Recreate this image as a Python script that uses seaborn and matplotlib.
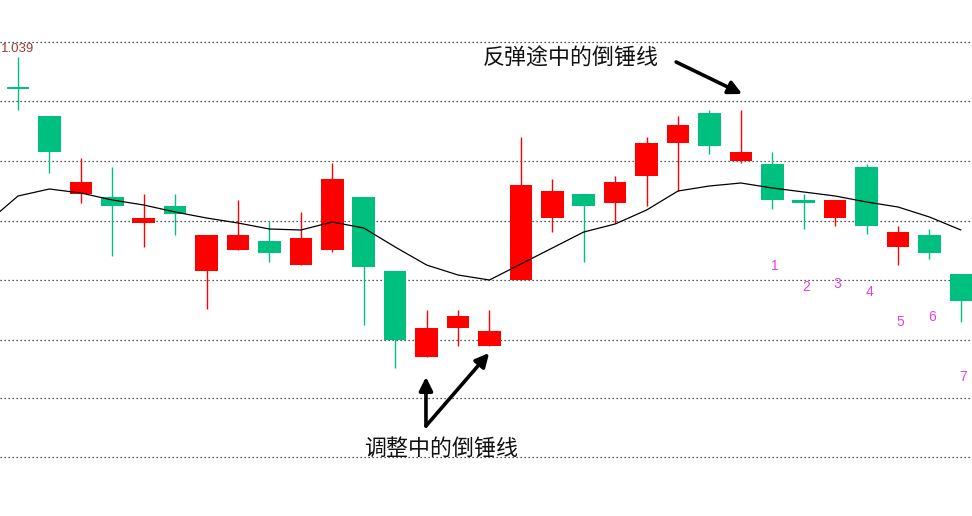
import numpy as np
import pandas as pd
import matplotlib
matplotlib.use("Agg")
import matplotlib.pyplot as plt
import seaborn as sns

# ---------------- data ----------------
opens  = [1.0360, 1.0331, 1.0253, 1.0250, 1.0224, 1.0241, 1.0176, 1.0197, 1.0206, 1.0182,
          1.0197, 1.0250, 1.0176, 1.0090, 1.0119, 1.0101, 1.0167, 1.0229, 1.0253, 1.0244,
          1.0271, 1.0304, 1.0334, 1.0286, 1.0283, 1.0247, 1.0229, 1.0280, 1.0200, 1.0212,
          1.0173]
highs  = [1.0390, 1.0331, 1.0289, 1.0280, 1.0253, 1.0253, 1.0212, 1.0247, 1.0226, 1.0235,
          1.0284, 1.0250, 1.0176, 1.0137, 1.0137, 1.0137, 1.0310, 1.0268, 1.0253, 1.0271,
          1.0310, 1.0331, 1.0337, 1.0337, 1.0295, 1.0253, 1.0247, 1.0283, 1.0221, 1.0218,
          1.0173]
lows   = [1.0337, 1.0274, 1.0244, 1.0191, 1.0200, 1.0212, 1.0138, 1.0197, 1.0185, 1.0182,
          1.0195, 1.0122, 1.0079, 1.0090, 1.0101, 1.0101, 1.0167, 1.0215, 1.0185, 1.0224,
          1.0241, 1.0256, 1.0293, 1.0284, 1.0238, 1.0218, 1.0221, 1.0213, 1.0182, 1.0188,
          1.0125]
closes = [1.0358, 1.0295, 1.0265, 1.0241, 1.0229, 1.0233, 1.0212, 1.0212, 1.0194, 1.0209,
          1.0268, 1.0180, 1.0107, 1.0119, 1.0131, 1.0116, 1.0262, 1.0256, 1.0241, 1.0265,
          1.0304, 1.0322, 1.0301, 1.0295, 1.0247, 1.0244, 1.0247, 1.0221, 1.0215, 1.0194,
          1.0146]
# moving average (first value belongs to the bar just before the visible window)
ma_index = list(range(-1, 31))
ma_values = [1.0224, 1.0251, 1.0258, 1.0254, 1.0247, 1.0242, 1.0235, 1.0229, 1.0224, 1.0218,
             1.0217, 1.0225, 1.0219, 1.0200, 1.0182, 1.0172, 1.0167, 1.0183, 1.0199, 1.0215,
             1.0223, 1.0237, 1.0256, 1.0261, 1.0264, 1.0259, 1.0255, 1.0251, 1.0245, 1.0240,
             1.0230, 1.0217]
grid_levels = [1.0405, 1.0346, 1.0286, 1.0226, 1.0167, 1.0107, 1.0049, 0.9990]
count_labels = ["1", "2", "3", "4", "5", "6", "7"]
count_index = [24, 25, 26, 27, 28, 29, 30]
count_y = [1.0181, 1.0160, 1.0163, 1.0155, 1.0125, 1.0130, 1.0070]
max_label = "1.039"
text_top = "反弹途中的倒锤线"
text_bottom = "调整中的倒锤线"

RED = "#FF0000"
GREEN = "#00C080"

# ---------------- figure ----------------
sns.set_style("white")
plt.rcParams["font.family"] = ["Noto Sans CJK SC", "DejaVu Sans"]

fig = plt.figure(figsize=(9.72, 5.16), dpi=100)
ax = fig.add_axes([0, 0, 1, 1])
ax.set_facecolor("white")

df = pd.DataFrame({"open": opens, "high": highs, "low": lows, "close": closes})
df["idx"] = np.arange(len(df))
up = df["close"] >= df["open"]
colors = np.where(up, RED, GREEN)

# grid lines
for g in grid_levels:
    ax.axhline(g, color="#202020", lw=0.9, ls=(0, (1, 2.2)), zorder=0)

# wicks
ax.vlines(df["idx"], df["low"], df["high"], colors=colors, lw=1.0, zorder=2)
# bodies
body_bottom = np.minimum(df["open"], df["close"])
body_h = np.maximum(np.abs(df["close"] - df["open"]), 0.00018)
ax.bar(df["idx"], body_h, bottom=body_bottom, width=0.72, color=colors,
       edgecolor="none", linewidth=0, zorder=3)

# moving average
ma_df = pd.DataFrame({"i": ma_index, "ma": ma_values})
sns.lineplot(data=ma_df, x="i", y="ma", color="black", lw=0.9, ax=ax, zorder=4)

# max label
ax.text(-0.54, highs[0] + 0.0002, max_label, color="#A23A30", fontsize=9.5,
        family=["Liberation Sans", "DejaVu Sans"], ha="left", va="bottom")

# count labels
for lab, xi, yv in zip(count_labels, count_index, count_y):
    ax.text(xi + 0.08, yv, lab, color="#E040E8", fontsize=10,
            family=["Liberation Sans", "DejaVu Sans"], ha="center", va="center")

# annotations
ax.text(17.58, 1.0388, text_top, fontsize=15.8, color="#111111",
        ha="center", va="center")
ax.annotate("", xy=(23.04, highs[23] + 0.0016), xytext=(20.94, 1.0385),
            arrowprops=dict(arrowstyle="-|>,head_length=0.5,head_width=0.25", lw=2.6,
                            color="black", mutation_scale=16, shrinkA=0, shrinkB=0))

ax.text(13.46, 0.9997, text_bottom, fontsize=15.8, color="#111111",
        ha="center", va="center")
ax.annotate("", xy=(12.98, lows[13] - 0.0020), xytext=(12.98, 1.0021),
            arrowprops=dict(arrowstyle="-|>,head_length=0.5,head_width=0.25", lw=2.6,
                            color="black", mutation_scale=16, shrinkA=0, shrinkB=0))
ax.annotate("", xy=(14.99, lows[15] - 0.0007), xytext=(12.98, 1.0021),
            arrowprops=dict(arrowstyle="-|>,head_length=0.5,head_width=0.25", lw=2.6,
                            color="black", mutation_scale=16, shrinkA=0, shrinkB=0))

ax.set_xlim(-18 / 31.43, (972 - 18) / 31.43)
ax.set_ylim(1.0447 - 516 / 10000, 1.0447)
ax.set_xlabel("")
ax.set_ylabel("")
ax.set_xticks([])
ax.set_yticks([])
for s in ax.spines.values():
    s.set_visible(False)
if ax.get_legend() is not None:
    ax.get_legend().remove()

fig.savefig("out.png", dpi=100, facecolor="white")
